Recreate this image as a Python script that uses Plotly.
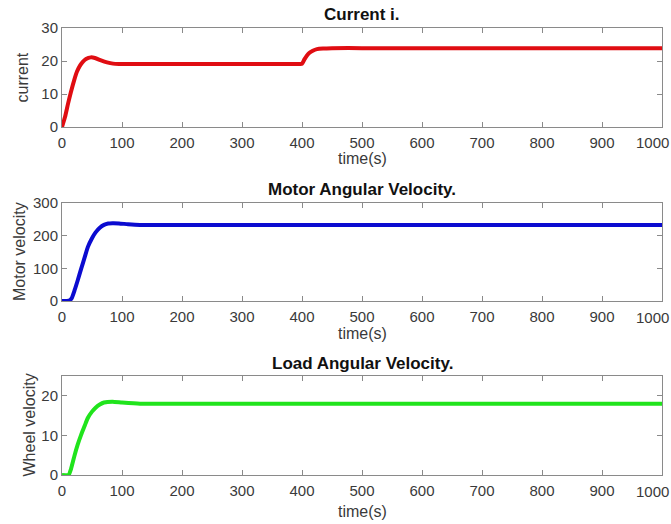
import plotly.graph_objects as go

# ---- data ----
t_current = [0, 5, 10, 15, 20, 25, 30, 35, 40, 48, 55, 65, 75, 85, 95, 120, 200, 300, 350, 390, 397, 400, 404, 408, 412, 418, 425, 435, 450, 500, 1000]
current = [0, 3, 7, 10.7, 14, 16.8, 18.6, 19.8, 20.6, 21.1, 20.9, 20.2, 19.6, 19.2, 19.1, 19.1, 19.1, 19.1, 19.1, 19.1, 19.1, 19.15, 20.5, 21.6, 22.4, 23.1, 23.6, 23.8, 23.9, 23.9, 23.9]

t_motor = [0, 8, 12, 16, 21, 26, 32, 38, 43, 50, 56, 63, 70, 77, 84, 95, 110, 130, 200, 1000]
motor = [0, 0, 1, 8, 33, 62, 99, 135, 165, 192, 210, 224, 233, 237, 238, 237.5, 235, 233, 233, 233]

t_wheel = [0, 11, 15, 21, 26, 32, 38, 43, 50, 56, 63, 70, 84, 100, 130, 200, 1000]
wheel = [0, 0, 1.5, 5, 7.6, 10.2, 12.5, 14.4, 16, 17, 17.8, 18.3, 18.5, 18.3, 18.0, 18.0, 18.0]

x_ticks = [0, 100, 200, 300, 400, 500, 600, 700, 800, 900, 1000]
y1_ticks = [0, 10, 20, 30]
y2_ticks = [0, 100, 200, 300]
y3_ticks = [0, 10, 20]

titles = ["Current i.", "Motor Angular Velocity.", "Load Angular Velocity."]
ylabels = ["current", "Motor velocity", "Wheel velocity"]
xlabel = "time(s)"

W, H = 671, 524
x0, x1 = 62, 662
panels = [(28, 127), (203, 301), (376, 475)]

def py(p):
    return 1 - p / H

fig = go.Figure()
series = [(t_current, current, "#e00d12"), (t_motor, motor, "#0b0bd0"), (t_wheel, wheel, "#20e41c")]
for i, (tx, vy, col) in enumerate(series):
    fig.add_trace(go.Scatter(x=tx, y=vy, mode="lines", line=dict(color=col, width=4, shape="spline", smoothing=0.5),
                             xaxis="x" if i == 0 else f"x{i+1}", yaxis="y" if i == 0 else f"y{i+1}", showlegend=False,
                             hoverinfo="skip"))

TXT = "#3a3a3a"
font_tick = dict(family="Liberation Sans, Arial", size=15, color=TXT)
yr = [[0, 30], [0, 300], [0, 25]]
yt = [y1_ticks, y2_ticks, y3_ticks]
x_text = [str(v) if v != 1000 else "" for v in x_ticks]
layout = dict(template="none", width=W, height=H, margin=dict(l=0, r=0, t=0, b=0, pad=0), paper_bgcolor="white",
              plot_bgcolor="white", showlegend=False)
for i, (top, bot) in enumerate(panels):
    sx = "" if i == 0 else str(i + 1)
    layout[f"xaxis{sx}"] = dict(domain=[x0 / W, x1 / W], range=[0, 1000], tickvals=x_ticks, ticktext=x_text,
                                ticks="inside", ticklen=5, ticklabelstandoff=2,
                                tickcolor="#8a8a8a", showline=True, linecolor="#8a8a8a", linewidth=1, mirror="ticks",
                                showgrid=False, zeroline=False, tickfont=font_tick, anchor=f"y{sx}", automargin=False)
    layout[f"yaxis{sx}"] = dict(domain=[py(bot), py(top)], range=yr[i], tickvals=yt[i], ticks="inside", ticklen=5,
                                tickcolor="#8a8a8a", showline=True, linecolor="#8a8a8a", linewidth=1, mirror="ticks",
                                showgrid=False, zeroline=False, tickfont=font_tick, anchor=f"x{sx}", automargin=False)
fig.update_layout(**layout)

ann = []
title_y = [15, 189, 363]
xlab_y = [158, 333, 511]
ylab_x = [22, 19, 29]
for i, (top, bot) in enumerate(panels):
    ann.append(dict(text=f"<b>{titles[i]}</b>", x=(x0 + x1) / 2 / W, y=py(title_y[i]), xref="paper", yref="paper",
                    xanchor="center", yanchor="middle", showarrow=False,
                    font=dict(family="Liberation Sans, Arial", size=17, color="#111")))
    ann.append(dict(text=xlabel, x=(x0 + x1) / 2 / W, y=py(xlab_y[i]), xref="paper", yref="paper",
                    xanchor="center", yanchor="middle", showarrow=False,
                    font=dict(family="Liberation Sans, Arial", size=16, color=TXT)))
    ann.append(dict(text=ylabels[i], x=ylab_x[i] / W, y=py((top + bot) / 2), xref="paper", yref="paper", textangle=-90,
                    xanchor="center", yanchor="middle", showarrow=False,
                    font=dict(family="Liberation Sans, Arial", size=16, color=TXT)))
    # last x tick label, pulled inside the page edge as in the reference
    ann.append(dict(text=str(x_ticks[-1]), x=1, y=py(bot + 16), xref="paper", yref="paper",
                    xanchor="right", yanchor="middle", showarrow=False, font=font_tick))
fig.update_layout(annotations=ann)

fig.write_html("out.html", config={"displayModeBar": False},
               post_script="document.body.style.margin='0';document.body.style.overflow='hidden';")
